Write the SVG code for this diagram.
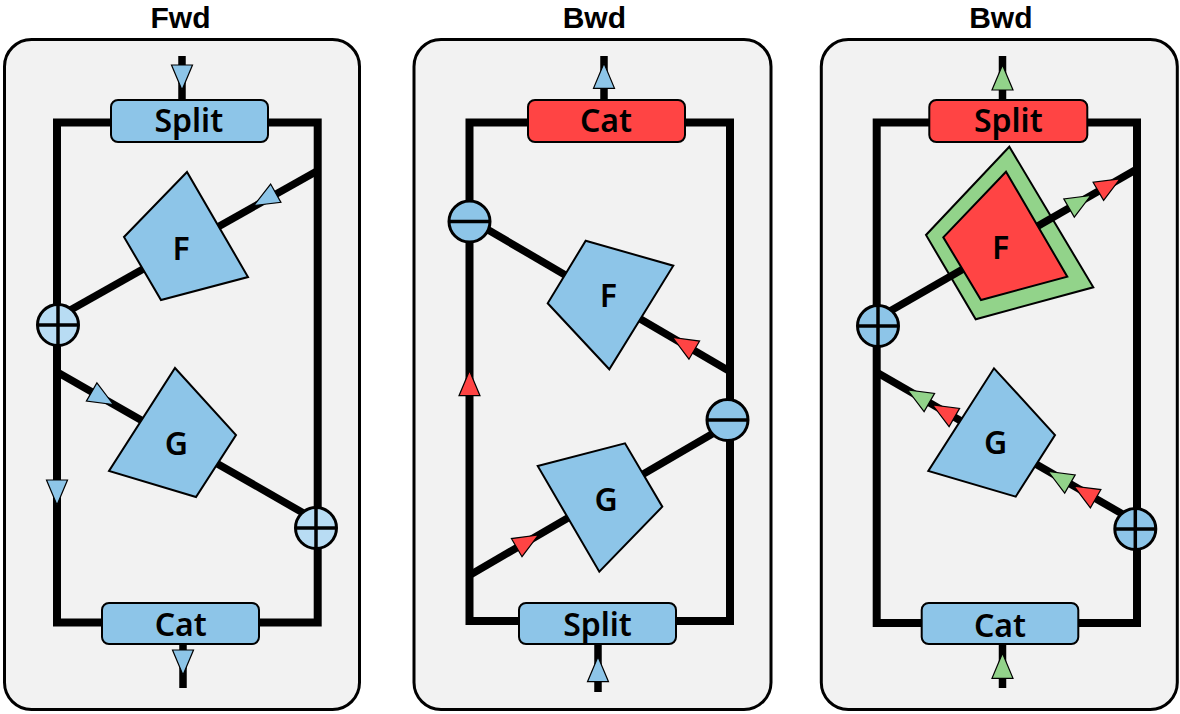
<svg xmlns="http://www.w3.org/2000/svg" xmlns:xlink="http://www.w3.org/1999/xlink" width="1180" height="714" viewBox="0 0 1180 714">
<style>
.panel{fill:#F2F2F2;stroke:#000;stroke-width:3}
.loop{fill:none;stroke:#000;stroke-width:8;stroke-linejoin:miter}
.wire{fill:none;stroke:#000;stroke-width:7.5;stroke-linecap:butt}
.blue{fill:#8DC5E8;stroke:#000;stroke-width:2}
.red{fill:#FF4444;stroke:#000;stroke-width:2}
.green{fill:#92D38A;stroke:#000;stroke-width:2}
.lite{fill:#B8DCF3;stroke:#000;stroke-width:3}
.opc{fill:#8DC5E8;stroke:#000;stroke-width:3}
.bar{stroke:#000;stroke-width:3.5}
.lbl{font-family:"Noto Sans","DejaVu Sans",sans-serif;font-size:32px;font-weight:600;text-anchor:middle;fill:#000}
.ttl{font-family:"Liberation Sans",Arial,sans-serif;font-size:30px;font-weight:bold;text-anchor:middle;fill:#000}
.ab{fill:#8DC5E8;stroke:#000;stroke-width:1.2;stroke-linejoin:miter}
.ar{fill:#FF4444;stroke:#000;stroke-width:1.2;stroke-linejoin:miter}
.ag{fill:#92D38A;stroke:#000;stroke-width:1.2;stroke-linejoin:miter}
</style>
<defs>
<path id="ah" d="M0,0 L-25,-10.5 L-25,10.5 Z"/>
</defs>

<!-- panels and titles -->
<g id="panel-fwd">
<rect class="panel" x="4.5" y="39.5" width="355" height="670" rx="27"/>
<text class="ttl" x="180.5" y="27.5">Fwd</text>
</g>
<g id="panel-bwd1">
<rect class="panel" x="414" y="39.5" width="357" height="670" rx="27"/>
<text class="ttl" x="594.3" y="27.5">Bwd</text>
</g>
<g id="panel-bwd2">
<rect class="panel" x="821.3" y="39.5" width="356" height="670" rx="27"/>
<text class="ttl" x="1000.8" y="27.5">Bwd</text>
</g>

<!-- panel 3 F gradient outline (under wires) -->
<g id="p3-F-outline">
<polygon class="green" points="1009.3,146.7 926,235 975.7,319.3 1093.3,287.3"/>
</g>

<g id="connectors">
<!-- panel 1 -->
<rect class="loop" x="57" y="122.5" width="260.7" height="500"/>
<line class="wire" x1="182" y1="56" x2="182" y2="100"/>
<line class="wire" x1="183" y1="644" x2="183" y2="688"/>
<line class="wire" x1="58" y1="317" x2="318" y2="170.5"/>
<line class="wire" x1="57" y1="372" x2="305" y2="514"/>
<!-- panel 2 -->
<rect class="loop" x="469.5" y="122.5" width="260.5" height="498.5"/>
<line class="wire" x1="604" y1="56" x2="604" y2="100"/>
<line class="wire" x1="598" y1="644" x2="598" y2="692"/>
<line class="wire" x1="469.5" y1="219" x2="730" y2="371.5"/>
<line class="wire" x1="470" y1="575" x2="727.5" y2="425"/>
<!-- panel 3 -->
<rect class="loop" x="876.7" y="122.5" width="260.3" height="500.5"/>
<line class="wire" x1="1002.5" y1="56" x2="1002.5" y2="100"/>
<line class="wire" x1="1002.5" y1="644" x2="1002.5" y2="688"/>
<line class="wire" x1="878" y1="318" x2="1137" y2="169"/>
<line class="wire" x1="877" y1="372.5" x2="1125" y2="515.5"/>
<!-- arrowheads panel 1 -->
<use xlink:href="#ah" class="ab" transform="translate(182,90) rotate(90)"/>
<use xlink:href="#ah" class="ab" transform="translate(183,675) rotate(90)"/>
<use xlink:href="#ah" class="ab" transform="translate(254,205.5) rotate(150.6)"/>
<use xlink:href="#ah" class="ab" transform="translate(113.3,404.5) rotate(30)"/>
<use xlink:href="#ah" class="ab" transform="translate(57,505) rotate(90)"/>
<!-- arrowheads panel 2 -->
<use xlink:href="#ah" class="ab" transform="translate(604,63.3) rotate(-90)"/>
<use xlink:href="#ah" class="ab" transform="translate(598,656.7) rotate(-90)"/>
<use xlink:href="#ah" class="ar" transform="translate(672.7,337.5) rotate(210.4)"/>
<use xlink:href="#ah" class="ar" transform="translate(538.3,535) rotate(-30.3)"/>
<use xlink:href="#ah" class="ar" transform="translate(469.5,370.7) rotate(-90)"/>
<!-- arrowheads panel 3 -->
<use xlink:href="#ah" class="ag" transform="translate(1002.5,65) rotate(-90)"/>
<use xlink:href="#ah" class="ag" transform="translate(1002.5,653.3) rotate(-90)"/>
<use xlink:href="#ah" class="ag" transform="translate(1090.7,195.5) rotate(-30)"/>
<use xlink:href="#ah" class="ar" transform="translate(1120,178.8) rotate(-30)"/>
<use xlink:href="#ah" class="ag" transform="translate(907.7,390) rotate(210)"/>
<use xlink:href="#ah" class="ar" transform="translate(932.7,405) rotate(210)"/>
<use xlink:href="#ah" class="ag" transform="translate(1048.3,471.5) rotate(210)"/>
<use xlink:href="#ah" class="ar" transform="translate(1074,486.2) rotate(210)"/>
</g>

<!-- panel 1 nodes -->
<g id="p1-split"><rect class="blue" x="111" y="100" width="157" height="42" rx="7"/><text class="lbl" x="188.8" y="131.7">Split</text></g>
<g id="p1-cat"><rect class="blue" x="102" y="603" width="157" height="41" rx="7"/><text class="lbl" x="180.7" y="636">Cat</text></g>
<g id="p1-F"><polygon class="blue" points="187,172 124,237 161,300 248,277"/><text class="lbl" x="181" y="260">F</text></g>
<g id="p1-G"><polygon class="blue" points="175,368 236,435 196,497 109,471"/><text class="lbl" x="176.3" y="455">G</text></g>
<g id="p1-add1"><circle class="lite" cx="58" cy="325" r="20.5"/><line class="bar" x1="37.5" y1="325" x2="78.5" y2="325"/><line class="bar" x1="58" y1="304.5" x2="58" y2="345.5"/></g>
<g id="p1-add2"><circle class="lite" cx="316" cy="528" r="20.5"/><line class="bar" x1="295.5" y1="528" x2="336.5" y2="528"/><line class="bar" x1="316" y1="507.5" x2="316" y2="548.5"/></g>

<!-- panel 2 nodes -->
<g id="p2-cat"><rect class="red" x="528" y="100" width="157" height="42" rx="7"/><text class="lbl" x="606" y="131.7">Cat</text></g>
<g id="p2-split"><rect class="blue" x="519" y="603" width="157" height="41" rx="7"/><text class="lbl" x="597.5" y="636">Split</text></g>
<g id="p2-F"><polygon class="blue" points="585.7,240.7 673.3,265.7 609.3,369.3 547.7,303.3"/><text class="lbl" x="608.3" y="306.7">F</text></g>
<g id="p2-G"><polygon class="blue" points="537.7,466 625,443.3 662.3,506.7 599.3,571.7"/><text class="lbl" x="606" y="510.7">G</text></g>
<g id="p2-sub1"><circle class="opc" cx="469.5" cy="221.5" r="20.5"/><line class="bar" x1="449" y1="221.5" x2="490" y2="221.5"/></g>
<g id="p2-sub2"><circle class="opc" cx="727.5" cy="420" r="20.5"/><line class="bar" x1="707" y1="420" x2="748" y2="420"/></g>

<!-- panel 3 nodes -->
<g id="p3-split"><rect class="red" x="929.3" y="100" width="158" height="42" rx="7"/><text class="lbl" x="1008.3" y="131.7">Split</text></g>
<g id="p3-cat"><rect class="blue" x="921.7" y="603" width="156.6" height="41" rx="7"/><text class="lbl" x="1000" y="636.5">Cat</text></g>
<g id="p3-F"><polygon class="red" points="1006,171.7 943.3,237.3 981,300 1067.3,276.7"/><text class="lbl" x="1000.5" y="259.3">F</text></g>
<g id="p3-G"><polygon class="blue" points="994,368.3 1055,435 1015.7,496.7 928.3,471"/><text class="lbl" x="995.7" y="454">G</text></g>
<g id="p3-add1"><circle class="opc" cx="878" cy="326" r="20.5"/><line class="bar" x1="857.5" y1="326" x2="898.5" y2="326"/><line class="bar" x1="878" y1="305.5" x2="878" y2="346.5"/></g>
<g id="p3-add2"><circle class="opc" cx="1135.3" cy="529" r="20.5"/><line class="bar" x1="1114.8" y1="529" x2="1155.8" y2="529"/><line class="bar" x1="1135.3" y1="508.5" x2="1135.3" y2="549.5"/></g>
</svg>
